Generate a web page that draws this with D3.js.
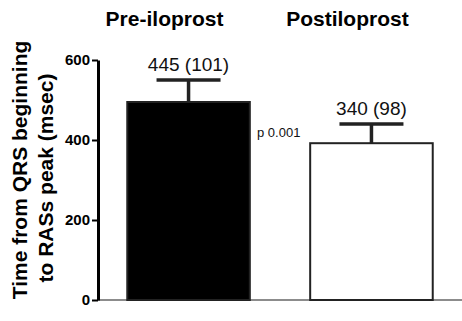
<!DOCTYPE html>
<html>
<head>
<meta charset="utf-8">
<script src="https://cdn.jsdelivr.net/npm/d3@7"></script>
<style>
  body { margin: 0; background: #fff; }
  svg { font-family: "Liberation Sans", Arial, sans-serif; }
</style>
</head>
<body>
<svg id="chart" width="462" height="321"></svg>
<script>
// data
const groups = ['Pre-iloprost', 'Postiloprost'];
const means = [495, 392];
const errs = [55, 48];
const valueLabels = ['445 (101)', '340 (98)'];
const fills = ['#000000', '#ffffff'];
const yTicks = [0, 200, 400, 600];
const yTitle = ['Time from QRS beginning', 'to RASs peak (msec)'];

const svg = d3.select('#chart');

// scales
const y = d3.scaleLinear().domain([0, 600]).range([300, 60]);
const x = d3.scaleBand().domain(groups).range([98, 462]).paddingInner(0.33).paddingOuter(0.16);

// baseline
svg.append('line')
  .attr('x1', 98).attr('x2', 462)
  .attr('y1', y(0)).attr('y2', y(0))
  .attr('stroke', '#666').attr('stroke-width', 1.5);

// y axis
const yAxis = svg.append('g')
  .attr('transform', 'translate(98,0)')
  .call(d3.axisLeft(y).tickValues(yTicks).tickSize(6).tickPadding(2).tickSizeOuter(0));
yAxis.select('.domain').attr('stroke', '#000').attr('stroke-width', 3);
yAxis.selectAll('.tick line').attr('stroke-width', 2);
yAxis.selectAll('.tick text')
  .attr('font-size', 15).attr('font-weight', 'bold').attr('fill', '#000')
  .attr('font-family', '"Liberation Sans", Arial, sans-serif');

// bars
svg.selectAll('rect.bar')
  .data(groups)
  .enter().append('rect')
  .attr('class', 'bar')
  .attr('x', d => x(d))
  .attr('y', (d, i) => y(means[i]))
  .attr('width', x.bandwidth())
  .attr('height', (d, i) => y(0) - y(means[i]))
  .attr('fill', (d, i) => fills[i])
  .attr('stroke', '#222')
  .attr('stroke-width', 2);

// error bars, value labels, group titles
groups.forEach((g, i) => {
  const cx = x(g) + x.bandwidth() / 2;
  const top = y(means[i] + errs[i]);
  svg.append('line')
    .attr('x1', cx).attr('x2', cx)
    .attr('y1', y(means[i])).attr('y2', top)
    .attr('stroke', '#222').attr('stroke-width', 3.5);
  svg.append('line')
    .attr('x1', cx - 32).attr('x2', cx + 32)
    .attr('y1', top).attr('y2', top)
    .attr('stroke', '#222').attr('stroke-width', 3.5);
  svg.append('text')
    .attr('x', cx)
    .attr('y', top - 9)
    .attr('text-anchor', 'middle')
    .attr('font-size', 19)
    .attr('fill', '#111')
    .text(valueLabels[i]);
  svg.append('text')
    .attr('x', cx - 24)
    .attr('y', 26)
    .attr('text-anchor', 'middle')
    .attr('font-size', 21)
    .attr('font-weight', 'bold')
    .text(g);
});

// p value
svg.append('text')
  .attr('x', 257).attr('y', 137)
  .attr('font-size', 13)
  .attr('fill', '#111')
  .text('p 0.001');

// y axis title
yTitle.forEach((t, i) => {
  svg.append('text')
    .attr('transform', `translate(${27 + i * 26},${170 + i * 8}) rotate(-90)`)
    .attr('text-anchor', 'middle')
    .attr('font-size', 21)
    .attr('font-weight', 'bold')
    .text(t);
});
</script>
</body>
</html>
